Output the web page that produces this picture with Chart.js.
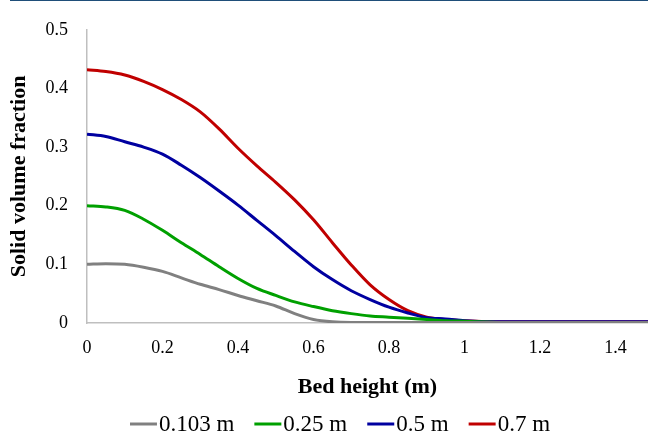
<!DOCTYPE html>
<html>
<head>
<meta charset="utf-8">
<script src="https://cdn.jsdelivr.net/npm/chart.js@4"></script>
<style>
  body { margin: 0; background: #fff; overflow: hidden; }
  #wrap { position: relative; width: 648px; height: 433px; }
  #topline { position: absolute; top: 0; left: 10px; right: 0; height: 1px; background: #1f4e79; }
</style>
</head>
<body>
<div id="wrap">
  <div id="topline"></div>
  <canvas id="chart_bed" width="648" height="433"></canvas>
</div>
<script>
// bed height (m) - common x for all series
var heights = [0, 0.05, 0.1, 0.15, 0.2, 0.25, 0.3, 0.35, 0.4, 0.45, 0.5, 0.55, 0.6, 0.65, 0.7, 0.75, 0.8, 0.85, 0.9, 0.95, 1.0, 1.1, 1.2, 1.3, 1.4, 1.5];

// solid volume fraction for each initial bed height
var seriesNames = ['0.103 m', '0.25 m', '0.5 m', '0.7 m'];
var frac_0103 = [0.100, 0.101, 0.100, 0.095, 0.088, 0.077, 0.066, 0.057, 0.047, 0.038, 0.029, 0.016, 0.006, 0.002, 0.001, 0.001, 0.001, 0.001, 0.001, 0.001, 0.001, 0.001, 0.001, 0.001, 0.001, 0.001];
var frac_025  = [0.200, 0.198, 0.192, 0.177, 0.158, 0.137, 0.117, 0.096, 0.076, 0.059, 0.047, 0.036, 0.028, 0.021, 0.016, 0.012, 0.010, 0.008, 0.006, 0.004, 0.003, 0.001, 0.001, 0.001, 0.001, 0.001];
var frac_05   = [0.322, 0.318, 0.309, 0.300, 0.288, 0.269, 0.248, 0.225, 0.201, 0.175, 0.149, 0.122, 0.096, 0.074, 0.055, 0.040, 0.027, 0.017, 0.009, 0.007, 0.004, 0.002, 0.002, 0.002, 0.002, 0.002];
var frac_07   = [0.432, 0.429, 0.423, 0.412, 0.398, 0.381, 0.360, 0.331, 0.298, 0.268, 0.240, 0.210, 0.176, 0.137, 0.099, 0.065, 0.040, 0.021, 0.010, 0.006, 0.004, 0.002, 0.002, 0.002, 0.002, 0.002];

var colors = ['#808080', '#00a000', '#0000a0', '#c00000'];
var allSeries = [frac_0103, frac_025, frac_05, frac_07];

var serif = "'Liberation Serif', 'Times New Roman', serif";

function points(ys) {
    var out = [];
    for (var i = 0; i < heights.length; i++) {
        out.push({x: heights[i], y: ys[i]});
    }
    return out;
}

var datasets = [];
for (var k = 0; k < allSeries.length; k++) {
    datasets.push({
        label: seriesNames[k],
        data: points(allSeries[k]),
        borderColor: colors[k],
        backgroundColor: colors[k],
        borderWidth: 3,
        pointRadius: 0,
        cubicInterpolationMode: 'monotone',
        fill: false
    });
}

// legend drawn by hand: short line right against the text, like the original
var bottomLegend = {
    id: 'bottomLegend',
    afterDraw: function(chart) {
        var ctx = chart.ctx;
        var lineLen = 27, gap = 2, spacing = 20;
        ctx.save();
        ctx.font = "23px " + serif;
        ctx.textBaseline = 'middle';
        var total = 0;
        chart.data.datasets.forEach(function(ds, i) {
            total += lineLen + gap + ctx.measureText(ds.label).width;
            if (i > 0) total += spacing;
        });
        var x = 340 - total / 2, y = 424;
        chart.data.datasets.forEach(function(ds) {
            ctx.strokeStyle = ds.borderColor;
            ctx.lineWidth = 3;
            ctx.beginPath();
            ctx.moveTo(x, y);
            ctx.lineTo(x + lineLen, y);
            ctx.stroke();
            x += lineLen + gap;
            ctx.fillStyle = '#000';
            ctx.fillText(ds.label, x, y + 1);
            x += ctx.measureText(ds.label).width + spacing;
        });
        ctx.restore();
    }
};

var ctx = document.getElementById('chart_bed').getContext('2d');
var chart = new Chart(ctx, {
    type: 'line',
    data: { datasets: datasets },
    options: {
        responsive: false,
        animation: false,
        layout: { padding: { top: 20, left: 0, right: 0, bottom: 32 } },
        plugins: {
            legend: { display: false },
            tooltip: { enabled: false }
        },
        scales: {
            x: {
                type: 'linear',
                min: 0,
                max: 1.486,
                grid: { display: false, drawTicks: false },
                border: { display: true, color: '#bfbfbf', width: 1.5 },
                afterFit: function(scale) { scale.height = 78; },
                ticks: {
                    stepSize: 0.2,
                    includeBounds: false,
                    padding: 14,
                    maxRotation: 0,
                    color: '#000',
                    font: { family: serif, size: 18 },
                    callback: function(v) { return String(Number(v.toFixed(2))); }
                },
                title: {
                    display: true,
                    text: 'Bed height (m)',
                    color: '#000',
                    font: { family: serif, size: 22, weight: 'bold' },
                    padding: { top: 10, bottom: 0 }
                }
            },
            y: {
                min: 0,
                max: 0.5,
                grid: { display: false, drawTicks: false },
                border: { display: true, color: '#bfbfbf', width: 1.5 },
                afterFit: function(scale) { scale.width = 87; },
                ticks: {
                    stepSize: 0.1,
                    padding: 19,
                    color: '#000',
                    font: { family: serif, size: 18 },
                    callback: function(v) { return String(Number(v.toFixed(2))); }
                },
                title: {
                    display: true,
                    text: 'Solid volume fraction',
                    color: '#000',
                    font: { family: serif, size: 22, weight: 'bold' },
                    padding: { top: 6, bottom: 0 }
                }
            }
        }
    },
    plugins: [bottomLegend]
});
</script>
</body>
</html>
